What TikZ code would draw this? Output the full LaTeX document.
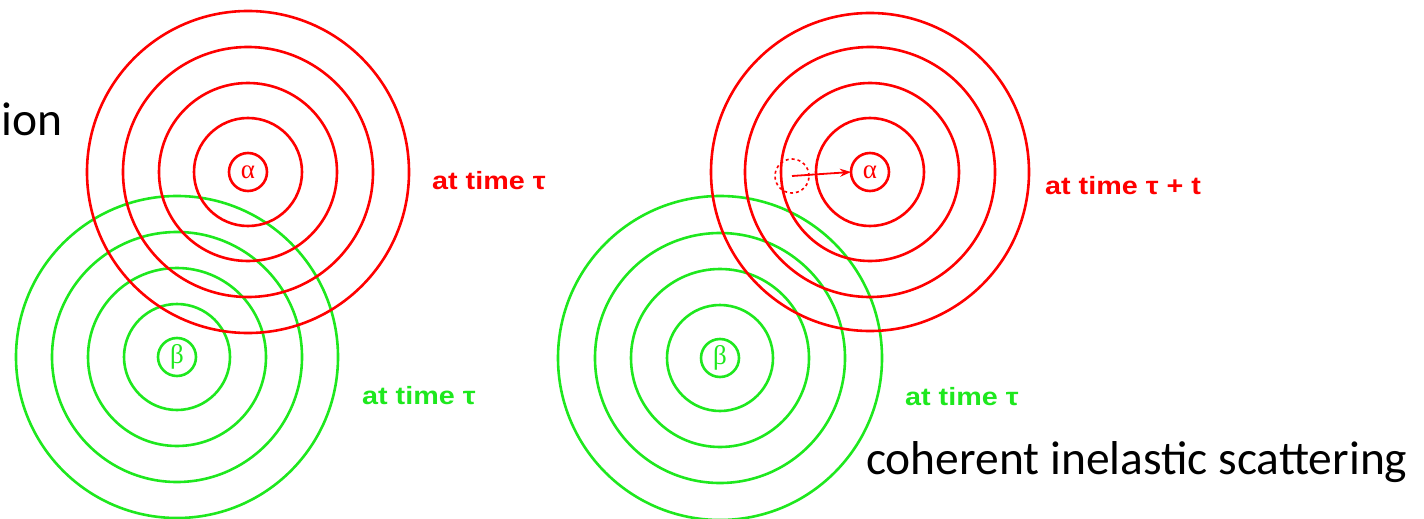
\documentclass[tikz,border=0pt]{standalone}
\usepackage{fontspec}
\setmainfont{Carlito}
\newfontfamily\labelfont[FakeStretch=1.15]{Liberation Sans}
\newfontfamily\greekfont{Liberation Serif}
\usetikzlibrary{arrows.meta}
\definecolor{wred}{RGB}{255,0,0}
\definecolor{wgreen}{RGB}{30,232,30}
\tikzset{
  ring/.style={circle,draw,line width=2.6pt,inner sep=0pt,outer sep=0pt},
  lab/.style={anchor=base west,inner sep=0pt,font=\labelfont\bfseries\fontsize{25}{25}\selectfont},
  greek/.style={font=\greekfont\fontsize{27}{27}\selectfont},
  caption/.style={font=\fontsize{47.5}{47.5}\selectfont}
}
\begin{document}
\begin{tikzpicture}[x=1pt,y=-1pt]
\useasboundingbox (0,0) rectangle (1424,519);
% ---------- left picture ----------
\foreach \d [count=\i] in {38,106,178,250,322}
  \node[ring,draw=wgreen,minimum size=\d pt] (Lb\i) at (177,357) {};
\node[greek,text=wgreen] (Lbeta) at (Lb1) {β};
\foreach \d [count=\i] in {38,108,178,250,322}
  \node[ring,draw=wred,minimum size=\d pt] (La\i) at (248,172) {};
\node[greek,text=wred] (Lalpha) at (La1) {α};
\node[lab,text=wred] (Lred) at (432,189) {at time τ};
\node[lab,text=wgreen] (Lgreen) at (362,404) {at time τ};
% ---------- right picture ----------
\foreach \d [count=\i] in {38,106,178,250,324}
  \node[ring,draw=wgreen,minimum size=\d pt] (Rb\i) at (720,358) {};
\node[greek,text=wgreen] (Rbeta) at (Rb1) {β};
\foreach \d [count=\i] in {38,108,178,250,318}
  \node[ring,draw=wred,minimum size=\d pt] (Ra\i) at (870,172) {};
\node[greek,text=wred] (Ralpha) at (Ra1) {α};
\node[circle,draw=wred,dashed,line width=1.6pt,minimum size=34pt,inner sep=0pt] (Rd) at (792,176) {};
\draw[wred,line width=1.8pt,-{Stealth[length=11pt,width=8pt]}] (Rd.center) -- (Ra1.west);
\node[lab,text=wred] (Rred) at (1045,194) {at time τ + t};
\node[lab,text=wgreen] (Rgreen) at (905,405) {at time τ};
% ---------- texts ----------
\node[caption,anchor=base west,inner sep=0pt] (ion) at (1,135) {ion};
\node[caption,anchor=base west,inner sep=0pt] (cap) at (866,474) {coherent inelastic scattering};
\end{tikzpicture}
\end{document}
